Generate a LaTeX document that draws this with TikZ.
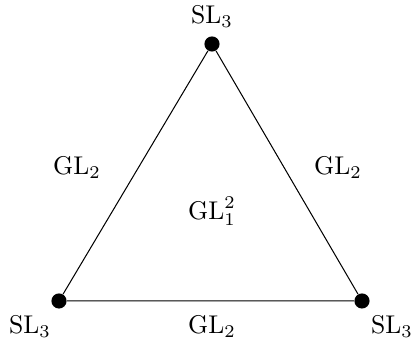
\documentclass[tikz,border=0pt]{standalone}
\begin{document}
\begin{tikzpicture}[x=0.39pt,y=-0.39pt,
  vdot/.style={circle,fill=black,inner sep=0pt,minimum size=5.9pt},
  lbl/.style={inner sep=0pt}]
\useasboundingbox (0,0) rectangle (415,348);
\node[vdot] (t) at (212,44) {};
\node[vdot] (l) at (59,301) {};
\node[vdot] (r) at (362,301) {};
\draw (t) -- (l) -- (r) -- (t);
\node[lbl] (tl) at (212,17) {$\mathrm{SL}_3$};
\node[lbl] (ll) at (30,327) {$\mathrm{SL}_3$};
\node[lbl] (rl) at (392,327) {$\mathrm{SL}_3$};
\node[lbl] (el) at (77,168) {$\mathrm{GL}_2$};
\node[lbl] (er) at (338,168) {$\mathrm{GL}_2$};
\node[lbl] (eb) at (212,327) {$\mathrm{GL}_2$};
\node[lbl] (c) at (212,211) {$\mathrm{GL}_1^2$};
\end{tikzpicture}
\end{document}
